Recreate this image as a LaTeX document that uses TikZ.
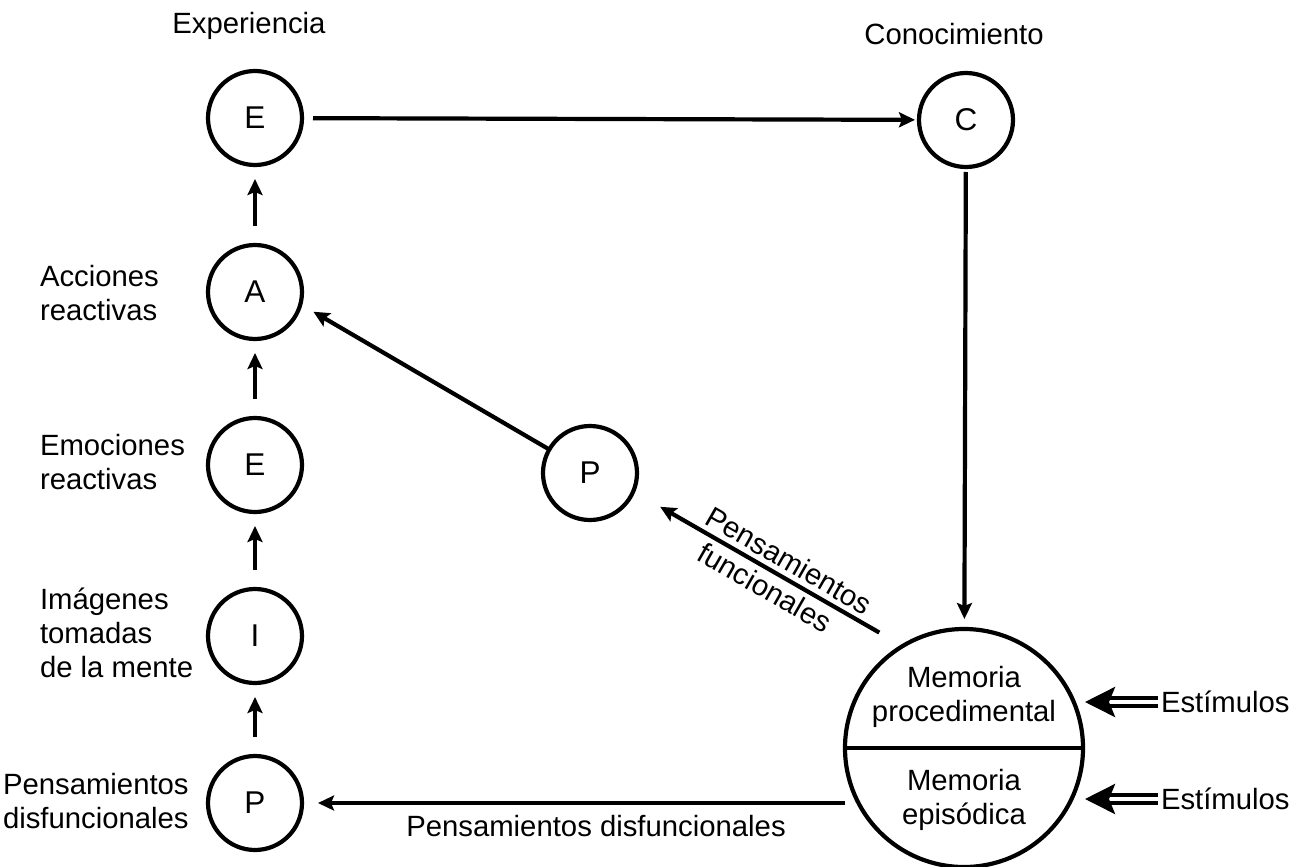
\documentclass[tikz,border=0pt]{standalone}
\usepackage{fontspec}
\setmainfont{Liberation Sans}
\usetikzlibrary{arrows.meta}
\begin{document}
\begin{tikzpicture}[x=1pt,y=-1pt,
  every node/.style={font=\fontsize{29.3}{34}\selectfont, inner sep=0pt, outer sep=0pt},
  circ/.style={circle, draw, line width=4.2pt, minimum size=94pt, font=\fontsize{31.5}{36}\selectfont},
  arr/.style={line width=4.2pt, -{Stealth[length=16pt,width=15pt,inset=3pt]}},
  lab/.style={align=left, anchor=west},
  darr/.style={double, line width=4pt, double distance=4pt, -{Stealth[length=30pt,width=30pt,inset=6pt]}}]
\useasboundingbox (0,0) rectangle (1306,867);
% circles
\node[circ] (E1) at (255,118) {E};
\node[circ] (A) at (255,292) {A};
\node[circ] (E2) at (255,465) {E};
\node[circ] (I) at (255,636) {I};
\node[circ] (P1) at (255,803) {P};
\node[circ] (C) at (966,120) {C};
\node[circ] (P2) at (590,473) {P};
\node[circle, draw, line width=4.2pt, minimum size=238pt] (M) at (964,748) {};
\draw[line width=4.2pt] (M.west) -- (M.east);
\node[align=center] (Mp) at (964,697) {Memoria\\procedimental};
\node[align=center] (Me) at (964,800) {Memoria\\episódica};
% labels
\node (tE) at (249,25.5) {Experiencia};
\node (tC) at (954,34) {Conocimiento};
\node[lab] (tA) at (40,293) {Acciones\\reactivas};
\node[lab] (tE2) at (40,462) {Emociones\\reactivas};
\node[lab] (tI) at (40,633) {Imágenes\\tomadas\\de la mente};
\node[lab] (tP) at (3,801) {Pensamientos\\disfuncionales};
\node (tPd) at (596,826) {Pensamientos disfuncionales};
\node[anchor=west] (S1) at (1161,702) {Estímulos};
\node[anchor=west] (S2) at (1161,799) {Estímulos};
% connectors
\draw[arr, shorten <=11pt, shorten >=4pt] (E1) -- (C);
\draw[arr, shorten <=19pt, shorten >=14pt] (A) -- (E1);
\draw[arr, shorten <=19pt, shorten >=14pt] (E2) -- (A);
\draw[arr, shorten <=19pt, shorten >=14pt] (I) -- (E2);
\draw[arr, shorten <=19pt, shorten >=14pt] (P1) -- (I);
\draw[arr, shorten <=5pt, shorten >=10pt] (C) -- (M);
\draw[arr, shorten >=15pt] (P2.150) -- (A.-15);
\draw[arr, shorten <=27pt, shorten >=31pt] (M.121.6) -- (P2.-23)
  node[pos=0.455, sloped, above=7pt] (tPf1) {Pensamientos}
  node[pos=0.478, sloped, below=7pt] (tPf2) {funcionales};
\draw[arr, shorten >=16pt] (M.west |- P1) -- (P1);
\draw[darr, shorten <=3pt, shorten >=2pt] (S1.west) -- (S1.west -| M.east);
\draw[darr, shorten <=3pt, shorten >=2pt] (S2.west) -- (S2.west -| M.east);
\end{tikzpicture}
\end{document}
